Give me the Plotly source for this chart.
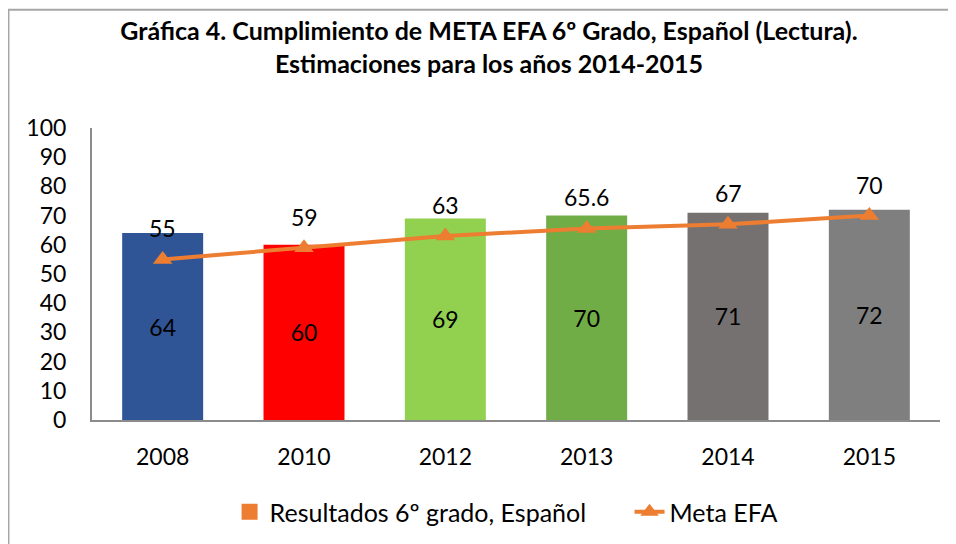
import plotly.graph_objects as go

years = ["2008", "2010", "2012", "2013", "2014", "2015"]
resultados = [64, 60, 69, 70, 71, 72]
meta_efa = [55, 59, 63, 65.6, 67, 70]
meta_labels = ["55", "59", "63", "65.6", "67", "70"]
bar_colors = ["#2F5597", "#FF0000", "#92D050", "#70AD47", "#767171", "#7F7F7F"]
y_ticks = list(range(0, 101, 10))

FONT = "Lato"
ORANGE = "#ED7D31"
fig = go.Figure()

fig.add_trace(go.Bar(
    x=years, y=resultados, marker=dict(color=bar_colors, line=dict(width=0)),
    text=[str(v) for v in resultados], textposition="inside",
    insidetextanchor="middle", textfont=dict(size=23, color="black", family=FONT),
    showlegend=False, hoverinfo="skip", width=0.573,
))
# legend stand-in for the bar series (Excel shows its default series colour)
fig.add_trace(go.Scatter(
    x=[None], y=[None], mode="markers",
    name="Resultados 6º grado, Español" + "&nbsp;" * 6,
    marker=dict(symbol="square", size=18, color=ORANGE), showlegend=True,
))
fig.add_trace(go.Scatter(
    x=years, y=meta_efa, mode="lines+markers", name="Meta EFA",
    line=dict(color=ORANGE, width=4),
    marker=dict(symbol="triangle-up", size=17, color=ORANGE),
))

# line value labels (category index positions on the category axis)
for i, (y, t) in enumerate(zip(meta_efa, meta_labels)):
    fig.add_annotation(x=i, y=y, text=t, showarrow=False, yshift=31,
                       font=dict(size=23, color="black", family=FONT))

# chart frame: only the left and top edges are visible in the reference
fig.add_shape(type="path", xref="paper", yref="paper",
              path="M -0.0985,-0.6 L -0.0985,1.405 L 1.1,1.405",
              line=dict(color="#A6A6A6", width=2), layer="below")

fig.update_layout(
    width=948, height=536,
    margin=dict(l=84, r=16, t=120, b=124, autoexpand=False),
    paper_bgcolor="white", plot_bgcolor="white",
    font=dict(family=FONT, color="black", size=20),
    title=dict(
        text="<b>Gráfica 4. Cumplimiento de META EFA 6º Grado, Español (Lectura).<br>Estimaciones para los años 2014-2015</b>",
        x=0.5074, xanchor="center", y=0.94, yanchor="middle",
        font=dict(size=25, family=FONT, color="black"),
    ),
    xaxis=dict(type="category", categoryorder="array", categoryarray=years,
               range=[-0.5, len(years) - 0.5],
               showline=True, linecolor="#8C8C8C", linewidth=2, showgrid=False,
               ticks="", tickfont=dict(size=23), ticklabelstandoff=15),
    yaxis=dict(range=[0, 100], tickvals=y_ticks, showline=True, linecolor="#8C8C8C",
               linewidth=2, showgrid=False, ticks="", tickfont=dict(size=23),
               ticklabelstandoff=19, zeroline=False),
    legend=dict(orientation="h", x=0.5254, xanchor="center", xref="container",
                y=0.0597, yanchor="middle", yref="container",
                font=dict(size=25), traceorder="normal"),
)

fig.write_html("out.html")
